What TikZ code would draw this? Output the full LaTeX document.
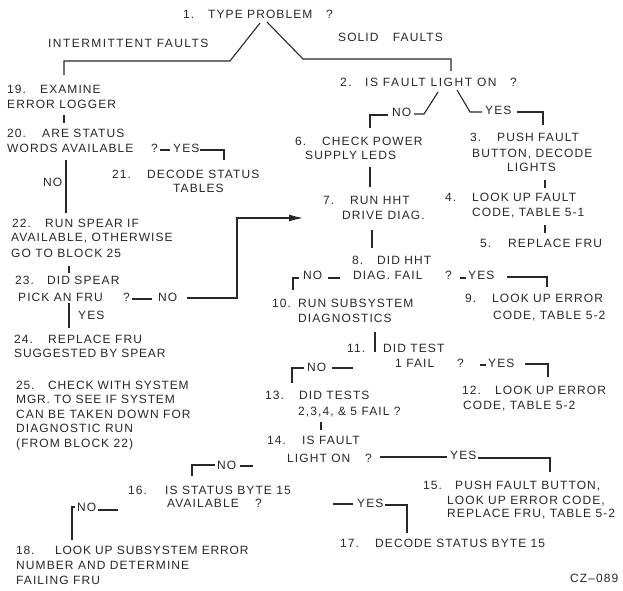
\documentclass[tikz,border=0pt]{standalone}
\usepackage{fontspec}
\setmainfont{Liberation Sans}[LetterSpace=9]
\usetikzlibrary{arrows.meta}
\definecolor{ink}{RGB}{40,40,40}
\newcommand{\nb}[2]{\makebox[#1pt][l]{#2}}
\begin{document}
\begin{tikzpicture}[x=1pt,y=-1pt,
  txt/.style={anchor=base west, inner sep=0pt, text=ink, font=\fontsize{12}{14}\selectfont},
  wide/.style={font=\fontsize{12}{14}\selectfont\addfontfeature{LetterSpace=12}},
  wider/.style={font=\fontsize{12}{14}\selectfont\addfontfeature{LetterSpace=13}},
  tight/.style={font=\fontsize{12}{14}\selectfont\addfontfeature{LetterSpace=7}},
  wire/.style={draw=ink, line width=1.1pt, line join=miter}]
\useasboundingbox (0,0) rectangle (623,590);
\fill[white] (0,0) rectangle (623,590);

% ---------- text nodes ----------
\node[txt] (b1) at (183,18.2) {\nb{25}{1.}\nb{118}{TYPE PROBLEM}?};
\node[txt,wide] (lint) at (48,47.2) {INTERMITTENT FAULTS};
\node[txt] (lsol) at (338,41.2) {SOLID\hspace{10pt} FAULTS};
\node[txt] (b19a) at (7,93.2) {\nb{33}{19.}EXAMINE};
\node[txt] (b19b) at (7,108.2) {ERROR LOGGER};
\node[txt] (b20a) at (7,137.2) {\nb{35}{20.}ARE STATUS};
\node[txt] (b20b) at (7,152.2) {\nb{144}{WORDS AVAILABLE}?};
\node[txt] (y20) at (173,152.2) {YES};
\node[txt] (n20) at (43,186.2) {NO};
\node[txt] (b21a) at (112,178.2) {\nb{35}{21.}DECODE STATUS};
\node[txt] (b21b) at (173,192.2) {TABLES};
\node[txt] (b22a) at (12,227.2) {\nb{33}{22.}RUN SPEAR IF};
\node[txt] (b22b) at (11,241.2) {AVAILABLE, OTHERWISE};
\node[txt] (b22c) at (11,257.2) {GO TO BLOCK 25};
\node[txt] (b23a) at (15,284.2) {\nb{32}{23.}DID SPEAR};
\node[txt] (b23b) at (18,301.2) {\nb{105}{PICK AN FRU}?};
\node[txt] (n23) at (158,301.2) {NO};
\node[txt] (y23) at (78,319.2) {YES};
\node[txt] (b24a) at (14,343.2) {\nb{34}{24.}REPLACE FRU};
\node[txt,tight] (b24b) at (14,357.2) {SUGGESTED BY SPEAR};
\node[txt,tight] (b25a) at (16,389.2) {\nb{32}{25.}CHECK WITH SYSTEM};
\node[txt,tight] (b25b) at (16,403.2) {MGR. TO SEE IF SYSTEM};
\node[txt] (b25c) at (16,418.2) {CAN BE TAKEN DOWN FOR};
\node[txt] (b25d) at (16,432.2) {DIAGNOSTIC RUN};
\node[txt] (b25e) at (16,447.2) {(FROM BLOCK 22)};
\node[txt,wider] (b2) at (340,86.2) {\nb{25}{2.}\nb{145}{IS FAULT LIGHT ON}?};
\node[txt] (n2) at (392,116.2) {NO};
\node[txt] (y2) at (485,114.2) {YES};
\node[txt] (b6a) at (295,145) {\nb{27}{6.}CHECK POWER};
\node[txt] (b6b) at (305,159.2) {SUPPLY LEDS};
\node[txt] (b3a) at (470,141.2) {\nb{27}{3.}PUSH FAULT};
\node[txt] (b3b) at (472,157.2) {BUTTON, DECODE};
\node[txt] (b3c) at (507,171.2) {LIGHTS};
\node[txt] (b7a) at (323,204.2) {\nb{27}{7.}RUN HHT};
\node[txt] (b7b) at (342,219.2) {DRIVE DIAG.};
\node[txt] (b4a) at (445,201.2) {\nb{27}{4.}LOOK UP FAULT};
\node[txt] (b4b) at (472,216.2) {CODE, TABLE 5-1};
\node[txt] (b5) at (480,247.2) {\nb{28}{5.}REPLACE FRU};
\node[txt] (b8a) at (352,264.2) {\nb{25}{8.}DID HHT};
\node[txt] (b8b) at (353,279.2) {\nb{92}{DIAG. FAIL}?};
\node[txt] (n8) at (303,279.2) {NO};
\node[txt] (y8) at (468,279.2) {YES};
\node[txt] (b9a) at (465,302.2) {\nb{27}{9.}LOOK UP ERROR};
\node[txt] (b9b) at (493,319.2) {CODE, TABLE 5-2};
\node[txt] (b10a) at (272,307.2) {\nb{26}{10.}RUN SUBSYSTEM};
\node[txt] (b10b) at (298,322.2) {DIAGNOSTICS};
\node[txt] (b11a) at (347,352.2) {\nb{36}{11.}DID TEST};
\node[txt] (b11b) at (395,367.2) {\nb{62}{1 FAIL}?};
\node[txt] (n11) at (307,371.2) {NO};
\node[txt] (y11) at (488,367.2) {YES};
\node[txt] (b12a) at (462,394.2) {\nb{33}{12.}LOOK UP ERROR};
\node[txt] (b12b) at (463,409.2) {CODE, TABLE 5-2};
\node[txt] (b13a) at (265,399.2) {\nb{34}{13.}DID TESTS};
\node[txt] (b13b) at (298,415.2) {2,3,4, \& 5 FAIL ?};
\node[txt] (b14a) at (267,444.2) {\nb{35}{14.}IS FAULT};
\node[txt] (b14b) at (287,462.2) {\nb{78}{LIGHT ON}?};
\node[txt] (n14) at (217,469.2) {NO};
\node[txt] (y14) at (450,459.2) {YES};
\node[txt] (b15a) at (423,489.2) {\nb{32}{15.}PUSH FAULT BUTTON,};
\node[txt] (b15b) at (447,504.2) {LOOK UP ERROR CODE,};
\node[txt] (b15c) at (447,517.2) {REPLACE FRU, TABLE 5-2};
\node[txt] (b16a) at (128,494.2) {\nb{37}{16.}IS STATUS BYTE 15};
\node[txt] (b16b) at (167,507.2) {\nb{88}{AVAILABLE}?};
\node[txt] (n16) at (77,511.2) {NO};
\node[txt] (y16) at (357,507.2) {YES};
\node[txt] (b17) at (340,547.2) {\nb{35}{17.}DECODE STATUS BYTE 15};
\node[txt,tight] (b18a) at (16,554.2) {\nb{39}{18.}LOOK UP SUBSYSTEM ERROR};
\node[txt] (b18b) at (16,569.2) {NUMBER AND DETERMINE};
\node[txt] (b18c) at (16,584.2) {FAILING FRU};
\node[txt] (cz) at (570,582.2) {CZ–089};

% ---------- connector end points ----------
\coordinate (p1l) at (260,23);   \coordinate (p19) at (64,75);
\coordinate (p1r) at (267,22);   \coordinate (p2) at (451,71);
\coordinate (p19s) at (64,115);  \coordinate (p20n) at (64,123);
\coordinate (p20q) at (160,150); \coordinate (p21) at (224,160);
\coordinate (p20s) at (66,160);  \coordinate (p22) at (66,213);
\coordinate (p22s) at (69,266);  \coordinate (p23n) at (69,273);
\coordinate (p23q) at (132,299); \coordinate (p7w) at (303,218);
\coordinate (p23s) at (69,303);  \coordinate (p24) at (69,328);
\coordinate (p2l) at (438,92);   \coordinate (p6) at (370,128);
\coordinate (p2r) at (457,90);   \coordinate (p3) at (543,125);
\coordinate (p6s) at (370,167);  \coordinate (p7) at (370,187);
\coordinate (p3s) at (545,180);  \coordinate (p4) at (545,188);
\coordinate (p7s) at (372,230);  \coordinate (p8) at (372,248);
\coordinate (p4s) at (545,225);  \coordinate (p5) at (545,233);
\coordinate (p8l) at (340,278);  \coordinate (p10) at (293,290);
\coordinate (p8r) at (460,278);  \coordinate (p9) at (547,287);
\coordinate (p10s) at (375,332); \coordinate (p11) at (375,352);
\coordinate (p11l) at (353,368); \coordinate (p13) at (292,383);
\coordinate (p11r) at (480,365); \coordinate (p12) at (548,377);
\coordinate (p13s) at (321,422); \coordinate (p14) at (321,430);
\coordinate (p14r) at (380,457); \coordinate (p15) at (550,472);
\coordinate (p14l) at (253,466); \coordinate (p16) at (192,476);
\coordinate (p16r) at (333,504); \coordinate (p17) at (407,533);
\coordinate (p16l) at (118,510); \coordinate (p18) at (72,540);

% ---------- connectors ----------
\draw[wire] (p1l) -- (230,61) -- (64,61) -- (p19);
\draw[wire] (p1r) -- (303,59) -- (451,59) -- (p2);
\draw[wire] (p19s) -- (p20n);
\draw[wire] (p20q) -- (170,150);
\draw[wire] (200,150) -- (224,150) -- (p21);
\draw[wire] (p20s) -- (p22);
\draw[wire] (p22s) -- (p23n);
\draw[wire] (p23q) -- (152,299);
\draw[wire, -{Latex[length=14pt,width=7pt]}] (187,298) -- (237,298) -- (237,218) -- (p7w);
\draw[wire] (p23s) -- (p24);
\draw[wire] (p2l) -- (424,114) -- (414,114);
\draw[wire] (388,115) -- (370,115) -- (p6);
\draw[wire] (p2r) -- (470,112) -- (482,112);
\draw[wire] (517,112) -- (543,112) -- (p3);
\draw[wire] (p6s) -- (p7);
\draw[wire] (p3s) -- (p4);
\draw[wire] (p7s) -- (p8);
\draw[wire] (p4s) -- (p5);
\draw[wire] (p8l) -- (328,278);
\draw[wire] (299,278) -- (293,278) -- (p10);
\draw[wire] (p8r) -- (466,278);
\draw[wire] (507,277) -- (547,277) -- (p9);
\draw[wire] (p10s) -- (p11);
\draw[wire] (p11l) -- (332,368);
\draw[wire] (304,368) -- (292,368) -- (p13);
\draw[wire] (p11r) -- (486,365);
\draw[wire] (525,364) -- (548,364) -- (p12);
\draw[wire] (p13s) -- (p14);
\draw[wire] (p14r) -- (447,457);
\draw[wire] (478,458) -- (550,458) -- (p15);
\draw[wire] (p14l) -- (240,466);
\draw[wire] (215,465) -- (192,465) -- (p16);
\draw[wire] (p16r) -- (353,504);
\draw[wire] (385,505) -- (407,505) -- (p17);
\draw[wire] (p16l) -- (98,510);
\draw[wire] (75,507) -- (72,507) -- (p18);
\end{tikzpicture}
\end{document}
